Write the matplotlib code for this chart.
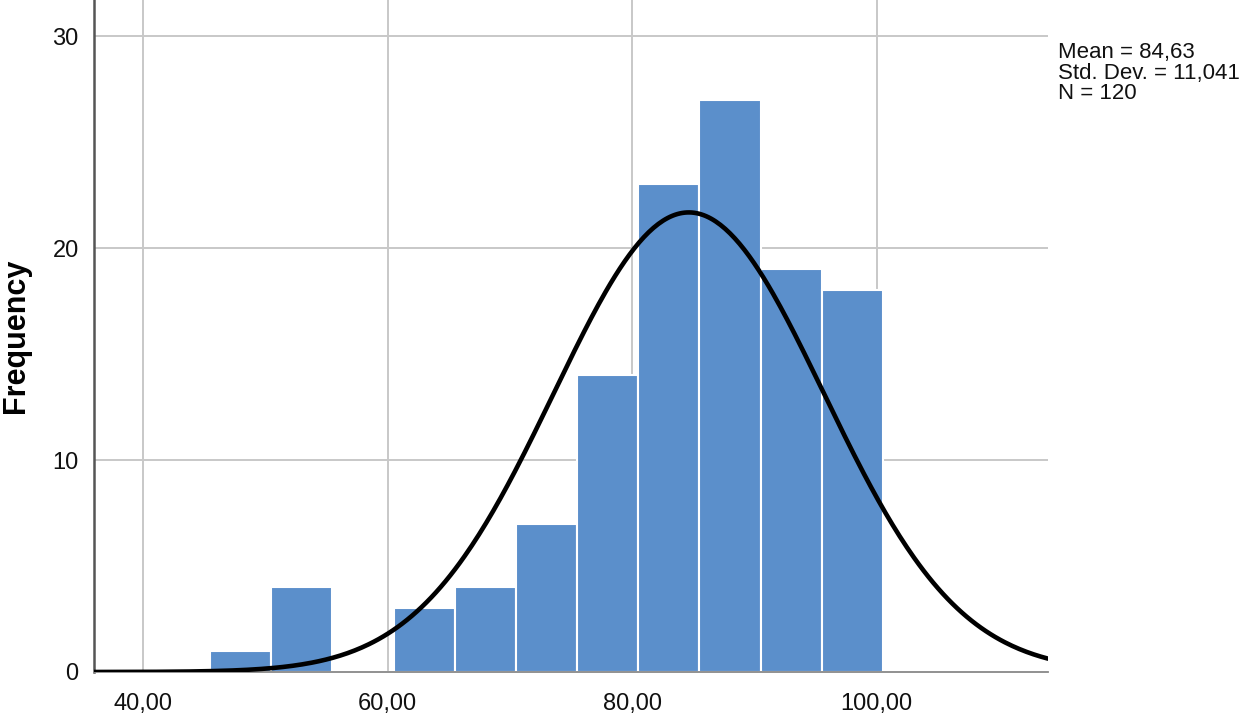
import numpy as np
import matplotlib.pyplot as plt

plt.rcParams['font.family'] = ['Liberation Sans', 'DejaVu Sans']

# histogram data
bin_edges = [45.5, 50.5, 55.5, 60.5, 65.5, 70.5, 75.5, 80.5, 85.5, 90.5, 95.5, 100.5]
counts = [1, 4, 0, 3, 4, 7, 14, 23, 27, 19, 18]
mean = 84.63
std = 11.041
n = 120
xticks = [40, 60, 80, 100]
xtick_labels = ['40,00', '60,00', '80,00', '100,00']
yticks = [0, 10, 20, 30]

fig = plt.figure(figsize=(12.55, 7.18), dpi=100)
ax = fig.add_axes([94/1255, 46/718, (1048-94)/1255, 672/718])

grid_col = '#c8c8c8'
for xt in xticks:
    ax.axvline(xt, color=grid_col, lw=1.4, zorder=0)
for yt in yticks[1:]:
    ax.axhline(yt, color=grid_col, lw=1.4, zorder=0)

edges = np.array(bin_edges)
ax.bar(edges[:-1], counts, width=np.diff(edges), align='edge',
       color='#5b8fcb', edgecolor='white', linewidth=1.5, zorder=2)

xs = np.linspace(36, 114, 400)
bw = edges[1] - edges[0]
ys = n * bw / (std * np.sqrt(2 * np.pi)) * np.exp(-0.5 * ((xs - mean) / std) ** 2)
ax.plot(xs, ys, color='black', lw=3.3, zorder=3, solid_capstyle='round')

ax.set_xlim(36, 114)
ax.set_ylim(0, 31.7)
ax.set_xticks(xticks)
ax.set_xticklabels(xtick_labels)
ax.set_yticks(yticks)
ax.tick_params(axis='both', length=0, labelsize=17, colors='#111111')
ax.tick_params(axis='y', pad=11)
ax.tick_params(axis='x', pad=15)

for s in ['top', 'right']:
    ax.spines[s].set_visible(False)
ax.spines['left'].set_color('#555555')
ax.spines['left'].set_linewidth(1.8)
ax.spines['bottom'].set_color('#888888')
ax.spines['bottom'].set_linewidth(1.3)

ax.set_ylabel('Frequency', fontsize=22, fontweight='bold')
ax.yaxis.set_label_coords(-0.066, 0.5)

fig.text(1058/1255, 1 - 42/718,
         'Mean = 84,63\nStd. Dev. = 11,041\nN = 120',
         fontsize=16, va='top', ha='left', linespacing=0.97, color='#111111')

fig.savefig('out.png', dpi=100)
